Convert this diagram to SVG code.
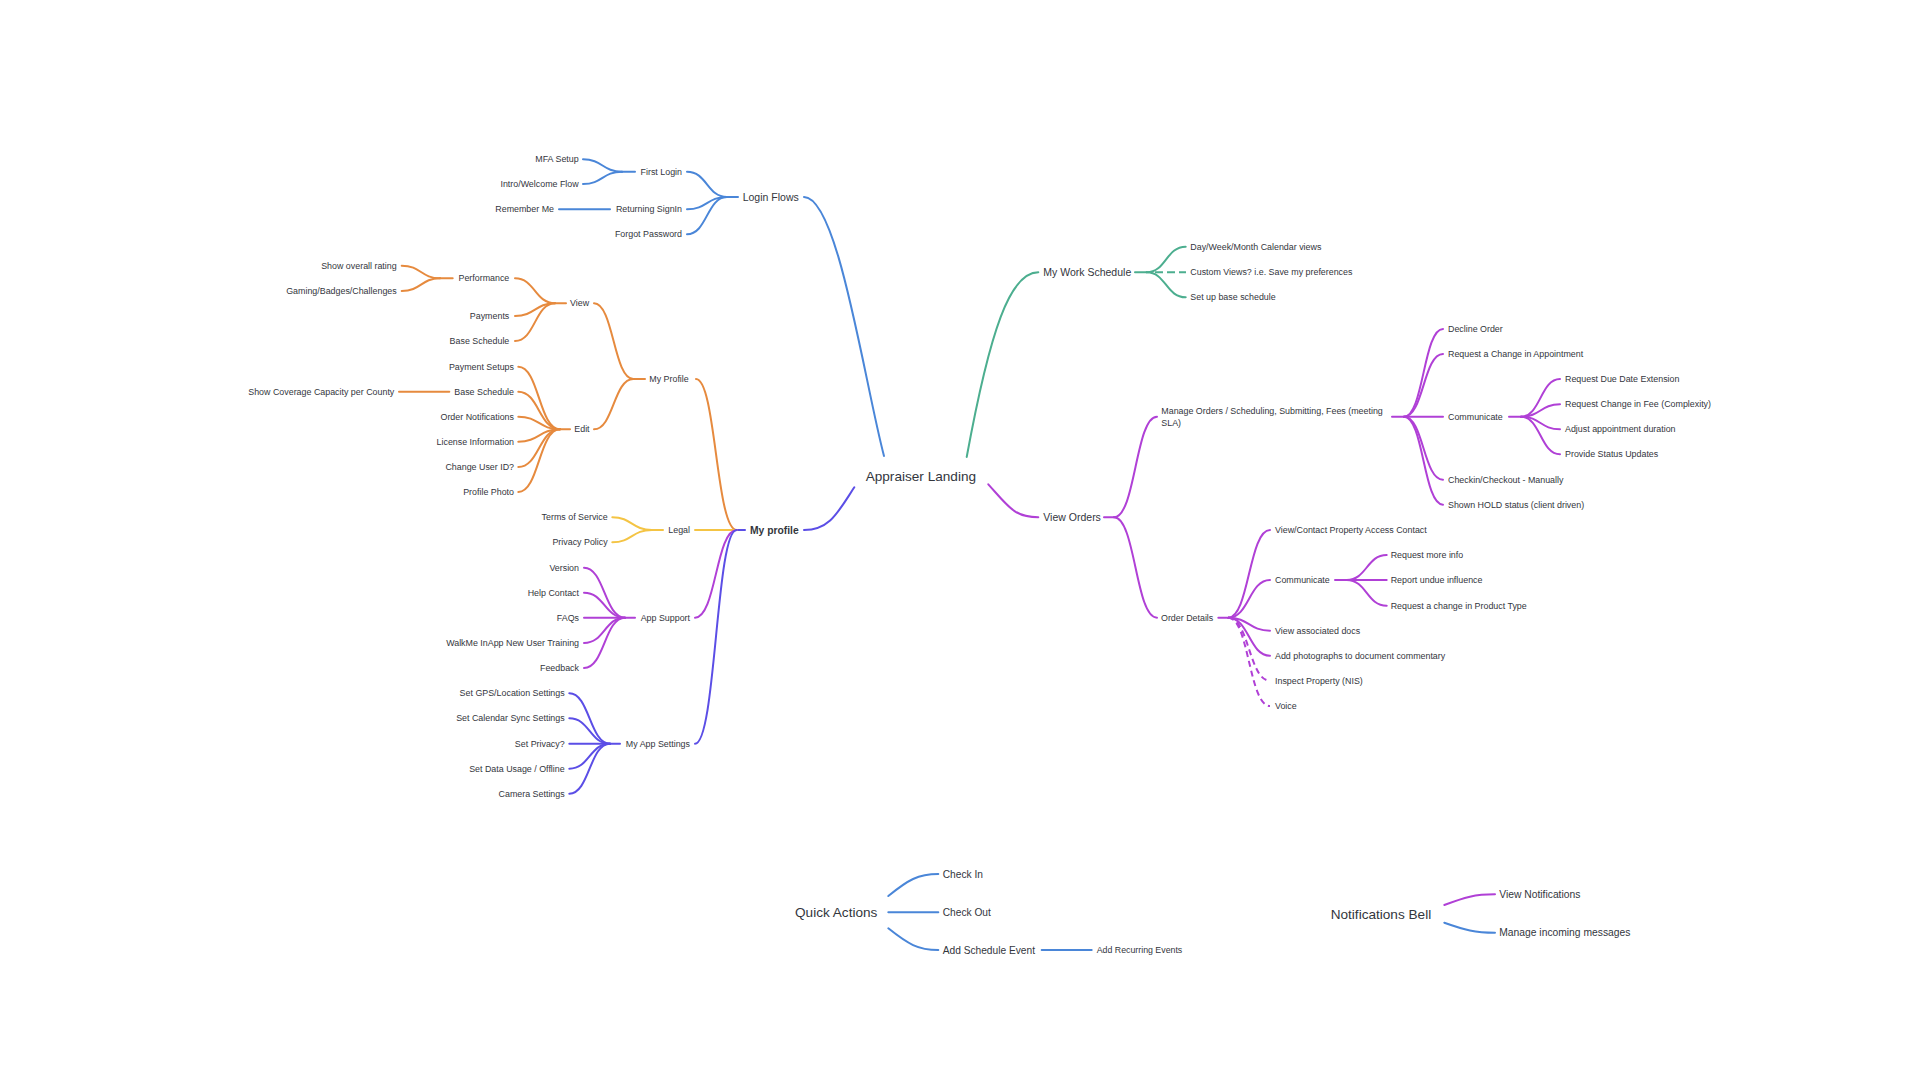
<svg xmlns="http://www.w3.org/2000/svg" width="1920" height="1080" viewBox="0 0 1920 1080">
<style>
text{font-family:"Liberation Sans",Arial,sans-serif;fill:#33363d;dominant-baseline:central}
.r{font-size:13.6px}
.l2{font-size:10.5px}
.l3{font-size:8.9px}
.e{text-anchor:end}
.b{font-weight:bold;font-size:10.3px}
path{fill:none;stroke-width:2;stroke-linecap:round}
.blue{stroke:#4a86d8}
.orange{stroke:#e68a3e}
.yellow{stroke:#f4c444}
.purple{stroke:#b040d6}
.indigo{stroke:#5b4ee6}
.teal{stroke:#4cae8f}
.dash{stroke-dasharray:8 4;stroke-linecap:butt}
.dash2{stroke-dasharray:6 4;stroke-linecap:butt}
</style>
<rect width="1920" height="1080" fill="#ffffff"/>
<g id="connectors">
<path class="blue" d="M884,456 C864,380 838,197 804,197"/>
<path class="teal" d="M966.7,457 C990,330 1010,272.3 1038.3,272.3"/>
<path class="purple" d="M988.3,484.3 C1008,506 1014,517.3 1038.3,517.3"/>
<path class="indigo" d="M854.3,487.3 C838,512 830,530 804,530"/>
<path class="blue" d="M738,197 H727"/>
<path class="blue" d="M727,197 C707,197 707,171.7 687,171.7"/>
<path class="blue" d="M727,197 C707,197 707,209.3 687,209.3"/>
<path class="blue" d="M727,197 C707,197 707,234.3 687,234.3"/>
<path class="blue" d="M635,171.7 H622"/>
<path class="blue" d="M622,171.7 C602.5,171.7 602.5,159.3 583,159.3"/>
<path class="blue" d="M622,171.7 C602.5,171.7 602.5,184 583,184"/>
<path class="blue" d="M610,209.3 H559"/>
<path class="indigo" d="M745,530 H736.7"/>
<path class="orange" d="M736.7,530 C716,530 716,379 696,379"/>
<path class="yellow" d="M736.7,530 H695"/>
<path class="purple" d="M736.7,530 C716,530 716,617.7 695,617.7"/>
<path class="indigo" d="M736.7,530 C716,530 716,743.7 695,743.7"/>
<path class="orange" d="M645,379 H633.3"/>
<path class="orange" d="M633.3,379 C613.6,379 613.6,303.3 594,303.3"/>
<path class="orange" d="M633.3,379 C613.6,379 613.6,429.3 594,429.3"/>
<path class="orange" d="M566,303.3 H555"/>
<path class="orange" d="M555,303.3 C535,303.3 535,278.3 515,278.3"/>
<path class="orange" d="M555,303.3 C535,303.3 535,316 515,316"/>
<path class="orange" d="M555,303.3 C535,303.3 535,341 515,341"/>
<path class="orange" d="M452.7,278.3 H440"/>
<path class="orange" d="M440,278.3 C421,278.3 421,265.7 401.7,265.7"/>
<path class="orange" d="M440,278.3 C421,278.3 421,291 401.7,291"/>
<path class="orange" d="M570,429.3 H560"/>
<path class="orange" d="M560,429.3 C539,429.3 539,366.7 518.3,366.7"/>
<path class="orange" d="M560,429.3 C539,429.3 539,391.7 518.3,391.7"/>
<path class="orange" d="M560,429.3 C539,429.3 539,416.7 518.3,416.7"/>
<path class="orange" d="M560,429.3 C539,429.3 539,441.7 518.3,441.7"/>
<path class="orange" d="M560,429.3 C539,429.3 539,467 518.3,467"/>
<path class="orange" d="M560,429.3 C539,429.3 539,492 518.3,492"/>
<path class="orange" d="M449.3,391.7 H399"/>
<path class="yellow" d="M663,530 H652"/>
<path class="yellow" d="M652,530 C632,530 632,517.3 612.3,517.3"/>
<path class="yellow" d="M652,530 C632,530 632,542.3 612.3,542.3"/>
<path class="purple" d="M635,617.7 H625"/>
<path class="purple" d="M625,617.7 C604.5,617.7 604.5,567.7 584,567.7"/>
<path class="purple" d="M625,617.7 C604.5,617.7 604.5,592.7 584,592.7"/>
<path class="purple" d="M625,617.7 H584"/>
<path class="purple" d="M625,617.7 C604.5,617.7 604.5,643 584,643"/>
<path class="purple" d="M625,617.7 C604.5,617.7 604.5,668 584,668"/>
<path class="indigo" d="M620,743.7 H610"/>
<path class="indigo" d="M610,743.7 C589.6,743.7 589.6,693.3 569.3,693.3"/>
<path class="indigo" d="M610,743.7 C589.6,743.7 589.6,718.3 569.3,718.3"/>
<path class="indigo" d="M610,743.7 H569.3"/>
<path class="indigo" d="M610,743.7 C589.6,743.7 589.6,768.7 569.3,768.7"/>
<path class="indigo" d="M610,743.7 C589.6,743.7 589.6,793.7 569.3,793.7"/>
<path class="teal" d="M1135,272.3 H1146.7"/>
<path class="teal" d="M1146.7,272.3 C1166,272.3 1166,246.7 1185.7,246.7"/>
<path class="teal dash" d="M1155,272.3 H1186"/>
<path class="teal" d="M1146.7,272.3 C1166,272.3 1166,297.3 1185.7,297.3"/>
<path class="purple" d="M1104,517.3 H1114"/>
<path class="purple" d="M1114,517.3 C1135.5,517.3 1135.5,416.7 1157,416.7"/>
<path class="purple" d="M1114,517.3 C1135.5,517.3 1135.5,617.7 1157,617.7"/>
<path class="purple" d="M1392,416.7 H1404"/>
<path class="purple" d="M1404,416.7 C1423.5,416.7 1423.5,329 1443,329"/>
<path class="purple" d="M1404,416.7 C1423.5,416.7 1423.5,354 1443,354"/>
<path class="purple" d="M1404,416.7 H1443"/>
<path class="purple" d="M1404,416.7 C1423.5,416.7 1423.5,479.7 1443,479.7"/>
<path class="purple" d="M1404,416.7 C1423.5,416.7 1423.5,504.7 1443,504.7"/>
<path class="purple" d="M1509,416.7 H1521"/>
<path class="purple" d="M1521,416.7 C1540.5,416.7 1540.5,379 1560,379"/>
<path class="purple" d="M1521,416.7 C1540.5,416.7 1540.5,404.3 1560,404.3"/>
<path class="purple" d="M1521,416.7 C1540.5,416.7 1540.5,429.3 1560,429.3"/>
<path class="purple" d="M1521,416.7 C1540.5,416.7 1540.5,454.3 1560,454.3"/>
<path class="purple" d="M1218.3,617.7 H1228.3"/>
<path class="purple" d="M1228.3,617.7 C1249,617.7 1249,530 1270,530"/>
<path class="purple" d="M1228.3,617.7 C1249,617.7 1249,580 1270,580"/>
<path class="purple" d="M1228.3,617.7 C1249,617.7 1249,630.7 1270,630.7"/>
<path class="purple" d="M1228.3,617.7 C1249,617.7 1249,655.7 1270,655.7"/>
<path class="purple dash2" d="M1228.3,617.7 C1249,617.7 1249,680.7 1270,680.7"/>
<path class="purple dash2" d="M1228.3,617.7 C1249,617.7 1249,706 1270,706"/>
<path class="purple" d="M1335,580 H1346.7"/>
<path class="purple" d="M1346.7,580 C1366.7,580 1366.7,555 1386.7,555"/>
<path class="purple" d="M1346.7,580 H1386.7"/>
<path class="purple" d="M1346.7,580 C1366.7,580 1366.7,605.7 1386.7,605.7"/>
<path class="blue" d="M888.3,896 C908,880 918,874 938.3,874"/>
<path class="blue" d="M888.3,912.3 H938.3"/>
<path class="blue" d="M888.3,928.3 C908,944 918,950 938.3,950"/>
<path class="blue" d="M1041.7,950 H1091.7"/>
<path class="purple" d="M1444.3,905 C1465,897 1475,894.3 1495,894.3"/>
<path class="blue" d="M1444.3,922.7 C1465,930 1475,932.7 1495,932.7"/>
</g>
<g id="node-root"><text class="r" x="865.7" y="476.7">Appraiser Landing</text></g>
<g id="node-login-flows"><text class="l2" x="742.7" y="197">Login Flows</text></g>
<g id="node-first-login"><text class="l3 e" x="682" y="171.7">First Login</text></g>
<g id="node-returning"><text class="l3 e" x="682" y="209.3">Returning SignIn</text></g>
<g id="node-forgot"><text class="l3 e" x="682" y="234.3">Forgot Password</text></g>
<g id="node-mfa"><text class="l3 e" x="578.7" y="159.3">MFA Setup</text></g>
<g id="node-intro"><text class="l3 e" x="578.7" y="184">Intro/Welcome Flow</text></g>
<g id="node-remember"><text class="l3 e" x="554" y="209.3">Remember Me</text></g>
<g id="node-myprofile-main"><text class="b" x="750" y="530">My profile</text></g>
<g id="node-myprofile"><text class="l3" x="649.3" y="379">My Profile</text></g>
<g id="node-view"><text class="l3" x="570" y="303.3">View</text></g>
<g id="node-edit"><text class="l3" x="574.3" y="429.3">Edit</text></g>
<g id="node-performance"><text class="l3 e" x="509.3" y="278.3">Performance</text></g>
<g id="node-payments"><text class="l3 e" x="509.3" y="316">Payments</text></g>
<g id="node-base-schedule-view"><text class="l3 e" x="509.3" y="341">Base Schedule</text></g>
<g id="node-rating"><text class="l3 e" x="396.7" y="265.7">Show overall rating</text></g>
<g id="node-gaming"><text class="l3 e" x="396.7" y="291">Gaming/Badges/Challenges</text></g>
<g id="node-payment-setups"><text class="l3 e" x="514" y="366.7">Payment Setups</text></g>
<g id="node-base-schedule-edit"><text class="l3 e" x="514" y="391.7">Base Schedule</text></g>
<g id="node-order-notifications"><text class="l3 e" x="514" y="416.7">Order Notifications</text></g>
<g id="node-license"><text class="l3 e" x="514" y="441.7">License Information</text></g>
<g id="node-change-user"><text class="l3 e" x="514" y="467">Change User ID?</text></g>
<g id="node-profile-photo"><text class="l3 e" x="514" y="492">Profile Photo</text></g>
<g id="node-coverage"><text class="l3 e" x="394.3" y="391.7">Show Coverage Capacity per County</text></g>
<g id="node-legal"><text class="l3 e" x="690" y="530">Legal</text></g>
<g id="node-terms"><text class="l3 e" x="607.7" y="517.3">Terms of Service</text></g>
<g id="node-privacy-policy"><text class="l3 e" x="607.7" y="542.3">Privacy Policy</text></g>
<g id="node-app-support"><text class="l3 e" x="690" y="617.7">App Support</text></g>
<g id="node-version"><text class="l3 e" x="579" y="567.7">Version</text></g>
<g id="node-help"><text class="l3 e" x="579" y="592.7">Help Contact</text></g>
<g id="node-faqs"><text class="l3 e" x="579" y="617.7">FAQs</text></g>
<g id="node-walkme"><text class="l3 e" x="579" y="643">WalkMe InApp New User Training</text></g>
<g id="node-feedback"><text class="l3 e" x="579" y="668">Feedback</text></g>
<g id="node-app-settings"><text class="l3 e" x="690" y="743.7">My App Settings</text></g>
<g id="node-gps"><text class="l3 e" x="564.7" y="693.3">Set GPS/Location Settings</text></g>
<g id="node-calendar-sync"><text class="l3 e" x="564.7" y="718.3">Set Calendar Sync Settings</text></g>
<g id="node-set-privacy"><text class="l3 e" x="564.7" y="743.7">Set Privacy?</text></g>
<g id="node-data-usage"><text class="l3 e" x="564.7" y="768.7">Set Data Usage / Offline</text></g>
<g id="node-camera"><text class="l3 e" x="564.7" y="793.7">Camera Settings</text></g>
<g id="node-work-schedule"><text class="l2" x="1043.3" y="272.3">My Work Schedule</text></g>
<g id="node-calendar-views"><text class="l3" x="1190.3" y="246.7">Day/Week/Month Calendar views</text></g>
<g id="node-custom-views"><text class="l3" x="1190.3" y="272.3">Custom Views? i.e. Save my preferences</text></g>
<g id="node-base-schedule-setup"><text class="l3" x="1190.3" y="297.3">Set up base schedule</text></g>
<g id="node-view-orders"><text class="l2" x="1043.3" y="517.3">View Orders</text></g>
<g id="node-manage-orders"><text class="l3" x="1161.3" y="410.7">Manage Orders / Scheduling, Submitting, Fees (meeting</text><text class="l3" x="1161.3" y="423.3">SLA)</text></g>
<g id="node-decline"><text class="l3" x="1448" y="329">Decline Order</text></g>
<g id="node-change-appt"><text class="l3" x="1448" y="354">Request a Change in Appointment</text></g>
<g id="node-communicate-1"><text class="l3" x="1448" y="416.7">Communicate</text></g>
<g id="node-checkin"><text class="l3" x="1448" y="479.7">Checkin/Checkout - Manually</text></g>
<g id="node-hold"><text class="l3" x="1448" y="504.7">Shown HOLD status (client driven)</text></g>
<g id="node-due-date"><text class="l3" x="1565" y="379">Request Due Date Extension</text></g>
<g id="node-fee"><text class="l3" x="1565" y="404.3">Request Change in Fee (Complexity)</text></g>
<g id="node-duration"><text class="l3" x="1565" y="429.3">Adjust appointment duration</text></g>
<g id="node-status"><text class="l3" x="1565" y="454.3">Provide Status Updates</text></g>
<g id="node-order-details"><text class="l3" x="1161" y="617.7">Order Details</text></g>
<g id="node-access-contact"><text class="l3" x="1275" y="530">View/Contact Property Access Contact</text></g>
<g id="node-communicate-2"><text class="l3" x="1275" y="580">Communicate</text></g>
<g id="node-docs"><text class="l3" x="1275" y="630.7">View associated docs</text></g>
<g id="node-photos"><text class="l3" x="1275" y="655.7">Add photographs to document commentary</text></g>
<g id="node-inspect"><text class="l3" x="1275" y="680.7">Inspect Property (NIS)</text></g>
<g id="node-voice"><text class="l3" x="1275" y="706">Voice</text></g>
<g id="node-more-info"><text class="l3" x="1390.7" y="555">Request more info</text></g>
<g id="node-undue"><text class="l3" x="1390.7" y="580">Report undue influence</text></g>
<g id="node-product-type"><text class="l3" x="1390.7" y="605.7">Request a change in Product Type</text></g>
<g id="node-quick-actions"><text class="r" x="795" y="912.3">Quick Actions</text></g>
<g id="node-check-in"><text class="l2" x="942.7" y="874" style="font-size:10.2px">Check In</text></g>
<g id="node-check-out"><text class="l2" x="942.7" y="912.3" style="font-size:10.2px">Check Out</text></g>
<g id="node-add-event"><text class="l2" x="942.7" y="950" style="font-size:10.2px">Add Schedule Event</text></g>
<g id="node-recurring"><text class="l3" x="1096.7" y="950" style="font-size:8.8px">Add Recurring Events</text></g>
<g id="node-notifications"><text class="r" x="1330.7" y="914">Notifications Bell</text></g>
<g id="node-view-notifications"><text class="l2" x="1499.3" y="894.3" style="font-size:10.3px">View Notifications</text></g>
<g id="node-manage-messages"><text class="l2" x="1499.3" y="932.7" style="font-size:10.3px">Manage incoming messages</text></g>
</svg>
